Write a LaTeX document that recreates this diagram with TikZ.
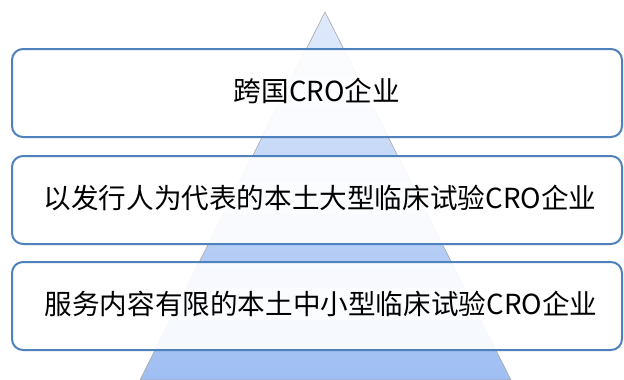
\documentclass[tikz,border=0pt]{standalone}
\usepackage{fontspec}
\newfontfamily\cjk{Noto Sans CJK SC}
\definecolor{boxline}{HTML}{4F81BD}
\definecolor{tritop}{HTML}{E0EAFB}
\definecolor{tribot}{HTML}{9FBEF3}
\begin{document}
\begin{tikzpicture}[x=1pt,y=-1pt,
  tier/.style={draw=boxline,line width=2pt,rounded corners=11pt,fill=white,fill opacity=0.9,text opacity=1},
  label/.style={font=\cjk\fontsize{27.6}{30}\selectfont,text=black,fill=white,fill opacity=0.55,text opacity=1,inner sep=3pt}]
\useasboundingbox (0,0) rectangle (624,380);
\coordinate (apex) at (325,12);
\coordinate (bl) at (140,380);
\coordinate (br) at (511,380);
\shade[top color=tritop,bottom color=tribot,draw=gray!70,line width=0.6pt] (apex) -- (bl) -- (br) -- cycle;
\draw[tier] (12,49) rectangle (622,137);
\draw[tier] (12,156) rectangle (622,244);
\draw[tier] (12,262) rectangle (622,350);
\node[label] (t1) at (317,91) {跨国CRO企业};
\node[label] (t2) at (320,198) {以发行人为代表的本土大型临床试验CRO企业};
\node[label] (t3) at (321,304) {服务内容有限的本土中小型临床试验CRO企业};
\end{tikzpicture}
\end{document}
